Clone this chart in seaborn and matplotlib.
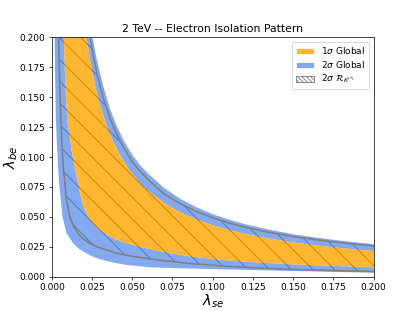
import numpy as np
import matplotlib
matplotlib.use("Agg")
import matplotlib.pyplot as plt
from matplotlib.patches import Patch
import seaborn as sns

# curves (lambda_se, lambda_be)
blue_hi_x = [0.022, 0.0254, 0.028, 0.032, 0.036, 0.040, 0.045, 0.050, 0.055, 0.060, 0.070,
             0.080, 0.090, 0.100, 0.110, 0.120, 0.135, 0.150, 0.165, 0.180, 0.200, 0.205]
blue_hi_y = [0.230, 0.199, 0.181, 0.159, 0.141, 0.127, 0.113, 0.102, 0.093, 0.086, 0.074,
             0.065, 0.058, 0.0523, 0.0478, 0.0440, 0.0394, 0.0356, 0.0326, 0.0301, 0.0273, 0.0267]

gray_hi_x = [0.021, 0.0238, 0.026, 0.028, 0.032, 0.036, 0.040, 0.045, 0.050, 0.055, 0.060, 0.070,
             0.080, 0.090, 0.100, 0.110, 0.120, 0.135, 0.150, 0.165, 0.180, 0.200, 0.205]
gray_hi_y = [0.226, 0.200, 0.183, 0.170, 0.149, 0.133, 0.120, 0.107, 0.096, 0.088, 0.081, 0.069,
             0.061, 0.0545, 0.0493, 0.0450, 0.0415, 0.0371, 0.0336, 0.0308, 0.0284, 0.0258, 0.0252]

orange_hi_x = [0.0195, 0.0215, 0.024, 0.027, 0.030, 0.034, 0.038, 0.043, 0.048, 0.054, 0.060, 0.070,
               0.080, 0.090, 0.100, 0.110, 0.120, 0.135, 0.150, 0.165, 0.180, 0.200, 0.205]
orange_hi_y = [0.2205, 0.200, 0.1792, 0.1593, 0.1433, 0.1265, 0.1132, 0.1000, 0.0896, 0.0796, 0.0717, 0.0614,
               0.0538, 0.0478, 0.0430, 0.0391, 0.0358, 0.0319, 0.0287, 0.0261, 0.0239, 0.0215, 0.0210]

orange_lo_x = [0.0068, 0.0074, 0.0084, 0.0095, 0.0110, 0.0124, 0.0140, 0.0163, 0.0184, 0.0205, 0.0225,
               0.0260, 0.0298, 0.0350, 0.0401, 0.0450, 0.0504, 0.0550, 0.0608, 0.070, 0.085, 0.1042,
               0.125, 0.150, 0.175, 0.200, 0.205]
orange_lo_y = [0.220, 0.200, 0.160, 0.131, 0.118, 0.105, 0.092, 0.078, 0.064, 0.056, 0.050,
               0.044, 0.039, 0.0345, 0.031, 0.0287, 0.0266, 0.0250, 0.0232, 0.0205, 0.0172, 0.0142,
               0.0122, 0.0104, 0.0091, 0.0080, 0.0078]

gray_lo_x = [0.0039, 0.0042, 0.0048, 0.0056, 0.0064, 0.0072, 0.0081, 0.0091, 0.0112, 0.0135, 0.0163,
             0.0190, 0.0236, 0.0280, 0.0339, 0.0400, 0.0463, 0.0530, 0.0608, 0.070, 0.085, 0.1042,
             0.125, 0.150, 0.175, 0.200, 0.205]
gray_lo_y = [0.220, 0.200, 0.165, 0.131, 0.106, 0.090, 0.078, 0.064, 0.050, 0.042, 0.0363,
             0.032, 0.028, 0.025, 0.0224, 0.0198, 0.0180, 0.0165, 0.0150, 0.0135, 0.0112, 0.0092,
             0.0076, 0.0062, 0.0052, 0.0044, 0.0043]

blue_lo_x = [0.0015, 0.0017, 0.0021, 0.0025, 0.0033, 0.0045, 0.0066, 0.0091, 0.0132, 0.0170, 0.0215,
             0.0260, 0.0318, 0.0390, 0.0463, 0.0608, 0.080, 0.1042, 0.125, 0.150, 0.175, 0.200, 0.205]
blue_lo_y = [0.220, 0.200, 0.160, 0.131, 0.106, 0.078, 0.050, 0.0363, 0.028, 0.0232, 0.0196,
             0.0165, 0.0140, 0.0117, 0.0099, 0.0079, 0.0071, 0.0063, 0.0056, 0.0048, 0.0041, 0.0034, 0.0033]

labels = [r"1$\sigma$ Global", r"2$\sigma$ Global", r"2$\sigma$ $\mathcal{R}_{K^{(*)}}$"]

DPI = 65

sns.set_style("ticks")
plt.rcParams.update({
    "font.family": ["DejaVu Sans"],
    "axes.edgecolor": "black",
    "text.color": "black",
    "xtick.color": "black",
    "ytick.color": "black",
    "axes.labelcolor": "black",
    "font.size": 10,
    "axes.titlesize": 12,
    "axes.labelsize": 16,
    "xtick.labelsize": 10,
    "ytick.labelsize": 10,
    "legend.fontsize": 10,
    "axes.linewidth": 0.8,
    "xtick.major.width": 0.8,
    "ytick.major.width": 0.8,
    "xtick.major.size": 3.5,
    "ytick.major.size": 3.5,
    "hatch.linewidth": 1.0,
})


def band(ax, hx, hy, lx, ly, **kw):
    xs = list(hx) + list(lx)[::-1]
    ys = list(hy) + list(ly)[::-1]
    ax.fill(xs, ys, **kw)


fig = plt.figure(figsize=(415 / DPI, 311 / DPI), dpi=DPI)
ax = fig.add_subplot(111)

# hatched R_K region sits underneath the translucent global fills
band(ax, gray_hi_x, gray_hi_y, gray_lo_x, gray_lo_y, facecolor="none",
     edgecolor="black", linewidth=0, hatch="\\", zorder=1)

band(ax, blue_hi_x, blue_hi_y, orange_hi_x, orange_hi_y, color="cornflowerblue", alpha=0.8, lw=0, zorder=2)
band(ax, orange_lo_x, orange_lo_y, blue_lo_x, blue_lo_y, color="cornflowerblue", alpha=0.8, lw=0, zorder=2)
band(ax, orange_hi_x, orange_hi_y, orange_lo_x, orange_lo_y, color="orange", alpha=0.8, lw=0, zorder=2)

sns.lineplot(x=gray_hi_x, y=gray_hi_y, sort=False, estimator=None, color="gray", lw=1.8, ax=ax, zorder=3)
sns.lineplot(x=gray_lo_x, y=gray_lo_y, sort=False, estimator=None, color="gray", lw=1.8, ax=ax, zorder=3)

ax.set_xlim(0, 0.2)
ax.set_ylim(0, 0.2)
ax.set_xticks(np.arange(0, 0.2001, 0.025))
ax.set_yticks(np.arange(0, 0.2001, 0.025))
ax.set_xlabel(r"$\lambda_{se}$", labelpad=0)
ax.set_ylabel(r"$\lambda_{be}$", labelpad=0)
ax.set_title("2 TeV -- Electron Isolation Pattern")

handles = [
    Patch(facecolor="orange", alpha=0.8, label=labels[0]),
    Patch(facecolor="cornflowerblue", alpha=0.8, label=labels[1]),
    Patch(facecolor="white", edgecolor="gray", hatch="\\\\\\\\\\", label=labels[2]),
]
ax.legend(handles=handles, loc="upper right", labelspacing=0.3)

fig.savefig("out.png", dpi=DPI)
plt.close(fig)
